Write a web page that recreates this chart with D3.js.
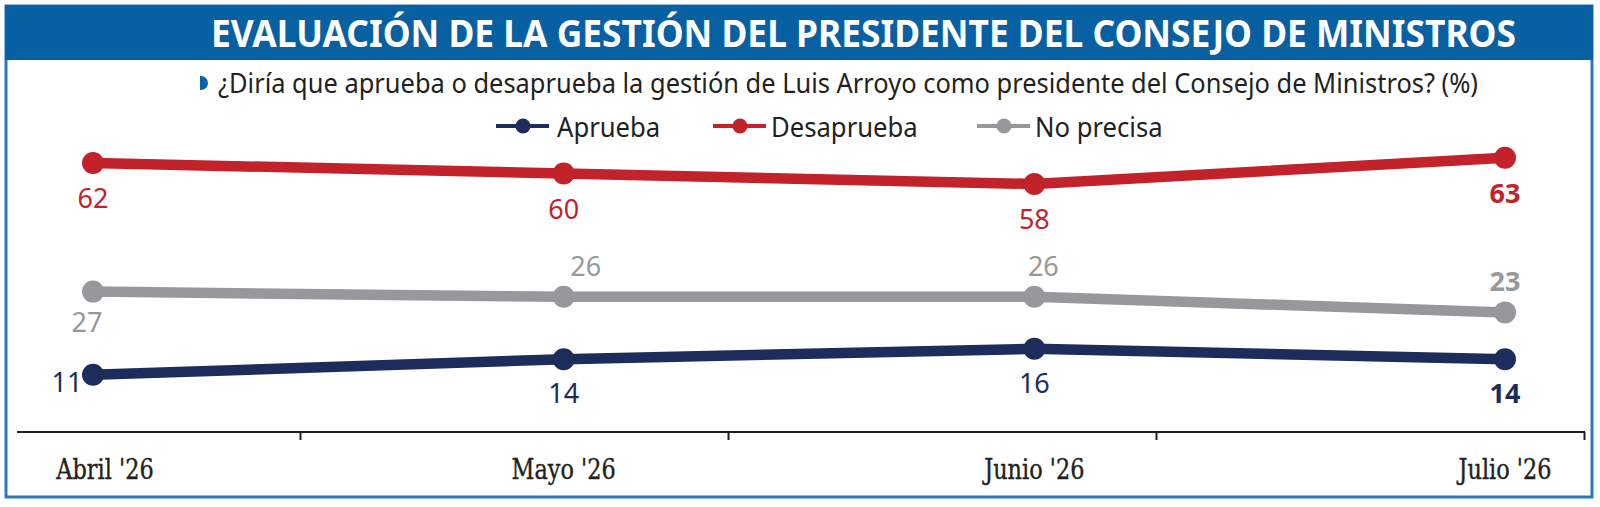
<!DOCTYPE html>
<html>
<head>
<meta charset="utf-8">
<script src="https://cdn.jsdelivr.net/npm/d3@7"></script>
<style>
  html, body { margin: 0; padding: 0; background: #fff; }
  svg { display: block; }
</style>
</head>
<body>
<script>
// values (%)
var months = ["Abril '26", "Mayo '26", "Junio '26", "Julio '26"];
var aprueba = [11, 14, 16, 14];
var desaprueba = [62, 60, 58, 63];
var noPrecisa = [27, 26, 26, 23];
var seriesNames = ['Aprueba', 'Desaprueba', 'No precisa'];

var title = 'EVALUACIÓN DE LA GESTIÓN DEL PRESIDENTE DEL CONSEJO DE MINISTROS';
var question = '¿Diría que aprueba o desaprueba la gestión de Luis Arroyo como presidente del Consejo de Ministros? (%)';

var width = 1600;
var height = 507;
var sans = "'Noto Sans', 'Open Sans', sans-serif";
var colors = { 'Aprueba': '#1c2c5b', 'Desaprueba': '#c2222a', 'No precisa': '#97989b' };

var series = [
  { name: 'Desaprueba', values: desaprueba },
  { name: 'No precisa', values: noPrecisa },
  { name: 'Aprueba', values: aprueba }
];

var svg = d3.select('body').append('svg')
  .attr('width', width)
  .attr('height', height);

// frame + header band
svg.append('rect')
  .attr('x', 6).attr('y', 6)
  .attr('width', 1586).attr('height', 491)
  .attr('fill', '#fff')
  .attr('stroke', '#2a79bb')
  .attr('stroke-width', 3);

svg.append('rect')
  .attr('x', 5).attr('y', 5)
  .attr('width', 1588).attr('height', 55)
  .attr('fill', '#0660a1');

svg.append('text')
  .attr('x', 211).attr('y', 47)
  .attr('font-family', sans)
  .attr('font-weight', 'bold')
  .attr('font-size', 37)
  .attr('fill', '#fff')
  .attr('textLength', 1305)
  .attr('lengthAdjust', 'spacingAndGlyphs')
  .text(title);

// question line with the half-disc bullet
svg.append('path')
  .attr('d', 'M200,76 h1 A7,7 0 0 1 201,90 h-1 Z')
  .attr('fill', '#0a63a8');

svg.append('text')
  .attr('x', 218).attr('y', 93)
  .attr('font-family', sans)
  .attr('font-size', 27)
  .attr('fill', '#231f20')
  .attr('textLength', 1260)
  .attr('lengthAdjust', 'spacingAndGlyphs')
  .text(question);

// legend
var legendX = { 'Aprueba': 496, 'Desaprueba': 713, 'No precisa': 977 };
var legend = svg.selectAll('.legend')
  .data(seriesNames)
  .enter().append('g')
  .attr('class', 'legend')
  .attr('transform', function(d) { return 'translate(' + legendX[d] + ',126)'; });

legend.append('line')
  .attr('x1', 0).attr('x2', 53)
  .attr('stroke', function(d) { return colors[d]; })
  .attr('stroke-width', 4);

legend.append('circle')
  .attr('cx', 27).attr('r', 7.5)
  .attr('fill', function(d) { return colors[d]; });

legend.append('text')
  .attr('x', function(d) { return d === 'Aprueba' ? 61 : 58; })
  .attr('y', 11)
  .attr('font-family', sans)
  .attr('font-size', 27)
  .attr('fill', '#231f20')
  .text(function(d) { return d; })
  .each(function() {
    var w = this.getComputedTextLength();
    d3.select(this).attr('textLength', w * 0.95).attr('lengthAdjust', 'spacingAndGlyphs');
  });

// scales: the printed chart squeezes the empty gap between the groups
var x = d3.scalePoint().domain(months).range([93, 1505]);
var y = d3.scaleLinear()
  .domain([0, 30, 55, 70])
  .range([432, 276, 199.75, 121]);

// axis
var tickScale = d3.scaleLinear().domain([0, 4]).range([-128, 1584]);
var axis = svg.append('g')
  .attr('transform', 'translate(0,432)')
  .call(d3.axisBottom(tickScale)
    .tickValues([1, 2, 3, 4])
    .tickFormat('')
    .tickSize(8));
axis.select('.domain').remove();
axis.selectAll('.tick line').attr('stroke', '#231f20').attr('stroke-width', 2);
axis.append('line')
  .attr('x1', 17).attr('x2', 1585)
  .attr('stroke', '#231f20')
  .attr('stroke-width', 2);

svg.selectAll('.month')
  .data(months)
  .enter().append('text')
  .attr('class', 'month')
  .attr('x', function(d) { return Math.max(x(d), 105); })
  .attr('y', 479)
  .attr('text-anchor', 'middle')
  .attr('font-family', "'DejaVu Serif', serif")
  .attr('font-size', 28)
  .attr('fill', '#231f20')
  .attr('stroke', '#231f20')
  .attr('stroke-width', 0.4)
  .text(function(d) { return d; })
  .each(function() {
    var w = this.getComputedTextLength();
    d3.select(this).attr('textLength', w * 0.8).attr('lengthAdjust', 'spacingAndGlyphs');
  });

// lines
var line = d3.line()
  .x(function(d, i) { return x(months[i]); })
  .y(function(d) { return y(d); });

var g = svg.selectAll('.series')
  .data(series)
  .enter().append('g')
  .attr('class', 'series');

g.append('path')
  .attr('d', function(s) { return line(s.values); })
  .attr('fill', 'none')
  .attr('stroke', function(s) { return colors[s.name]; })
  .attr('stroke-width', 10.5)
  .attr('stroke-linejoin', 'round');

g.selectAll('circle')
  .data(function(s) { return s.values.map(function(v, i) { return { name: s.name, v: v, i: i }; }); })
  .enter().append('circle')
  .attr('cx', function(d) { return x(months[d.i]); })
  .attr('cy', function(d) { return y(d.v); })
  .attr('r', 11)
  .attr('fill', function(d) { return colors[d.name]; });

// value labels, placed the way the printed chart does
var labelOffset = function(d) {
  if (d.name === 'Desaprueba') return [0, 45];
  if (d.name === 'No precisa') return d.i === 0 ? [-6, 40] : [d.i === 1 ? 22 : (d.i === 2 ? 9 : 0), -21];
  return d.i === 0 ? [-26, 17] : [0, 44];
};

g.selectAll('.val')
  .data(function(s) { return s.values.map(function(v, i) { return { name: s.name, v: v, i: i }; }); })
  .enter().append('text')
  .attr('class', 'val')
  .attr('x', function(d) { return x(months[d.i]) + labelOffset(d)[0]; })
  .attr('y', function(d) { return y(d.v) + labelOffset(d)[1]; })
  .attr('text-anchor', 'middle')
  .attr('font-family', sans)
  .attr('font-size', 27)
  .attr('font-weight', function(d) { return d.i === months.length - 1 ? 'bold' : 'normal'; })
  .attr('fill', function(d) { return colors[d.name]; })
  .text(function(d) { return d.v; });
</script>
</body>
</html>
